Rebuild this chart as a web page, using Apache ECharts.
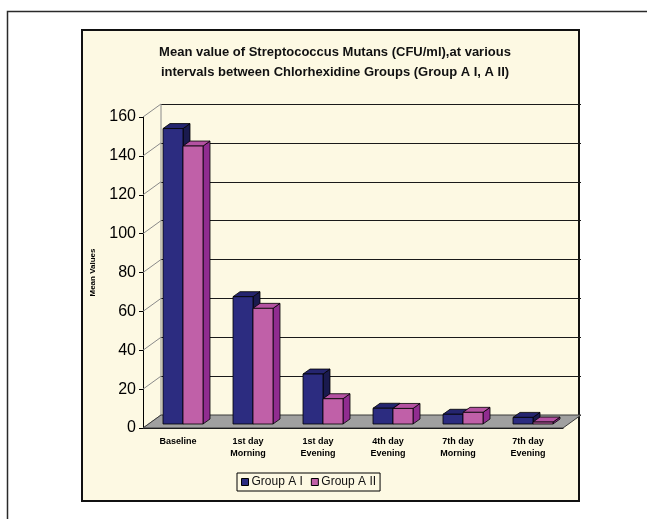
<!DOCTYPE html>
<html>
<head>
<meta charset="utf-8">
<title>Streptococcus Mutans – Chlorhexidine Groups</title>
<script src="https://cdn.jsdelivr.net/npm/echarts@6/dist/echarts.min.js"></script>
<style>
  html, body { margin: 0; padding: 0; background: #ffffff; }
  #chart { width: 647px; height: 519px; }
</style>
</head>
<body>
<div id="chart"></div>
<script>
// Sampling intervals along the x axis
const categories = [
  'Baseline',
  '1st day\nMorning',
  '1st day\nEvening',
  '4th day\nEvening',
  '7th day\nMorning',
  '7th day\nEvening'
];

// Mean CFU/ml per interval
const groupA1 = [152, 65.5, 25.7, 8.1, 5, 3.4];
const groupA2 = [143, 59.5, 13, 8, 6, 1];

// Value axis ticks
const yTicks = [0, 20, 40, 60, 80, 100, 120, 140, 160];

// Pseudo-3D geometry (pixels)
const WALL_DEPTH = [18, -13];   // offset of the back wall from the front plane
const BAR_SHIFT = [5, -4];      // bars stand part-way into the floor
const BAR_DEPTH = [7, -5];      // thickness of each bar
const BAR_FRACTION = 20 / 70;   // bar width relative to a category band

const FRONT = { left: 143, top: 117, width: 420, height: 311 };

const palette = {
  a1: { front: '#2C2C80', side: '#1A1A4E', top: '#25256F' },
  a2: { front: '#C060A8', side: '#902C90', top: '#B452A2' }
};

const edge = { stroke: '#000', lineWidth: 0.8 };

function barRenderer(slot, colors) {
  return function (params, api) {
    const idx = api.value(0);
    const val = api.value(1);
    const band = api.size([1, 0])[0];
    const w = band * BAR_FRACTION;
    const base = api.coord([idx, 0]);
    const top = api.coord([idx, val]);
    const x0 = base[0] - w + slot * w + BAR_SHIFT[0];
    const x1 = x0 + w;
    const yb = base[1] + BAR_SHIFT[1];
    const yt = top[1] + BAR_SHIFT[1];
    const dx = BAR_DEPTH[0], dy = BAR_DEPTH[1];
    return {
      type: 'group',
      children: [
        { type: 'polygon', shape: { points: [[x1, yb], [x1 + dx, yb + dy], [x1 + dx, yt + dy], [x1, yt]] },
          style: Object.assign({ fill: colors.side }, edge) },
        { type: 'polygon', shape: { points: [[x0, yt], [x1, yt], [x1 + dx, yt + dy], [x0 + dx, yt + dy]] },
          style: Object.assign({ fill: colors.top }, edge) },
        { type: 'polygon', shape: { points: [[x0, yb], [x1, yb], [x1, yt], [x0, yt]] },
          style: Object.assign({ fill: colors.front }, edge) }
      ]
    };
  };
}

// Floor slab and the left side wall
function floorRenderer(params, api) {
  const cs = params.coordSys;
  const dx = WALL_DEPTH[0], dy = WALL_DEPTH[1];
  const fl = cs.x, fr = cs.x + cs.width, fb = cs.y + cs.height;
  const children = [];
  yTicks.forEach(function (t) {
    const p = api.coord([0, t]);
    children.push({
      type: 'line',
      shape: { x1: fl, y1: p[1], x2: fl + dx, y2: p[1] + dy },
      style: { stroke: '#8a8a8a', lineWidth: 1 }
    });
  });
  children.push({
    type: 'line',
    shape: { x1: fl + dx, y1: cs.y + dy, x2: fl + dx, y2: fb + dy },
    style: { stroke: '#8a8a8a', lineWidth: 1 }
  });
  children.push({
    type: 'polygon',
    shape: { points: [[fl, fb], [fr, fb], [fr + dx, fb + dy], [fl + dx, fb + dy]] },
    style: { fill: '#A0A0A0', stroke: '#3a3a3a', lineWidth: 1 }
  });
  return { type: 'group', children: children };
}

const chart = echarts.init(document.getElementById('chart'), null, { renderer: 'canvas' });

chart.setOption({
  animation: false,
  backgroundColor: '#ffffff',
  textStyle: { fontFamily: 'Liberation Sans, Arial, sans-serif' },
  graphic: [
    {
      type: 'polyline', z: -20,
      shape: { points: [[7.5, 519], [7.5, 11.5], [647, 11.5]] },
      style: { stroke: '#2a2a2a', lineWidth: 1.5, fill: null }
    },
    {
      type: 'rect', z: -10,
      shape: { x: 82, y: 30, width: 497, height: 471 },
      style: { fill: '#FDF9E3', stroke: '#111', lineWidth: 2 }
    },
    {
      type: 'text', z: 10,
      style: {
        text: 'Mean value of Streptococcus Mutans (CFU/ml),at various\nintervals between Chlorhexidine Groups (Group A I, A II)',
        x: 335, y: 42,
        textAlign: 'center',
        fill: '#111',
        font: 'bold 13px "Liberation Sans", Arial, sans-serif',
        lineHeight: 20
      }
    }
  ],
  legend: {
    left: 237, top: 473,
    orient: 'horizontal',
    padding: [3, 4, 3, 4],
    itemGap: 8,
    itemWidth: 7, itemHeight: 7,
    icon: 'rect',
    borderColor: '#000', borderWidth: 1,
    textStyle: { fontSize: 12, color: '#111', padding: [0, 0, 0, -2] },
    data: [
      { name: 'Group A I', itemStyle: { color: palette.a1.front, borderColor: '#000', borderWidth: 1 } },
      { name: 'Group A II', itemStyle: { color: palette.a2.front, borderColor: '#000', borderWidth: 1 } }
    ]
  },
  grid: [
    { left: FRONT.left, top: FRONT.top, width: FRONT.width, height: FRONT.height },
    { left: FRONT.left + WALL_DEPTH[0], top: FRONT.top + WALL_DEPTH[1], width: FRONT.width, height: FRONT.height }
  ],
  xAxis: [
    {
      type: 'category', gridIndex: 0, data: categories,
      axisLine: { lineStyle: { color: '#000', width: 1 } },
      axisTick: { length: 4, lineStyle: { color: '#000' } },
      axisLabel: { fontSize: 9, fontWeight: 'bold', color: '#000', margin: 8, lineHeight: 12, interval: 0 },
      splitLine: { show: false }
    },
    {
      type: 'category', gridIndex: 1, data: categories, show: false
    }
  ],
  yAxis: [
    {
      type: 'value', gridIndex: 0, min: 0, max: 160, interval: 20,
      name: 'Mean Values', nameLocation: 'middle', nameGap: 46,
      nameTextStyle: { fontSize: 8, fontWeight: 'bold', color: '#000' },
      axisLine: { show: true, lineStyle: { color: '#000', width: 1 } },
      axisTick: { show: true, length: 4, lineStyle: { color: '#000' } },
      axisLabel: { fontSize: 16, color: '#000', margin: 7 },
      splitLine: { show: false }
    },
    {
      type: 'value', gridIndex: 1, min: 0, max: 160, interval: 20,
      axisLine: { show: false }, axisTick: { show: false }, axisLabel: { show: false },
      splitLine: { show: true, lineStyle: { color: '#1a1a1a', width: 1 } }
    }
  ],
  series: [
    {
      type: 'custom', name: 'floor', xAxisIndex: 0, yAxisIndex: 0, z: 1,
      renderItem: floorRenderer, data: [[0, 0]], silent: true
    },
    {
      type: 'custom', name: 'Group A I', xAxisIndex: 0, yAxisIndex: 0, z: 3,
      itemStyle: { color: palette.a1.front },
      encode: { x: 0, y: 1 },
      renderItem: barRenderer(0, palette.a1),
      data: groupA1.map(function (v, i) { return [i, v]; })
    },
    {
      type: 'custom', name: 'Group A II', xAxisIndex: 0, yAxisIndex: 0, z: 4,
      itemStyle: { color: palette.a2.front },
      encode: { x: 0, y: 1 },
      renderItem: barRenderer(1, palette.a2),
      data: groupA2.map(function (v, i) { return [i, v]; })
    }
  ]
});
</script>
</body>
</html>
